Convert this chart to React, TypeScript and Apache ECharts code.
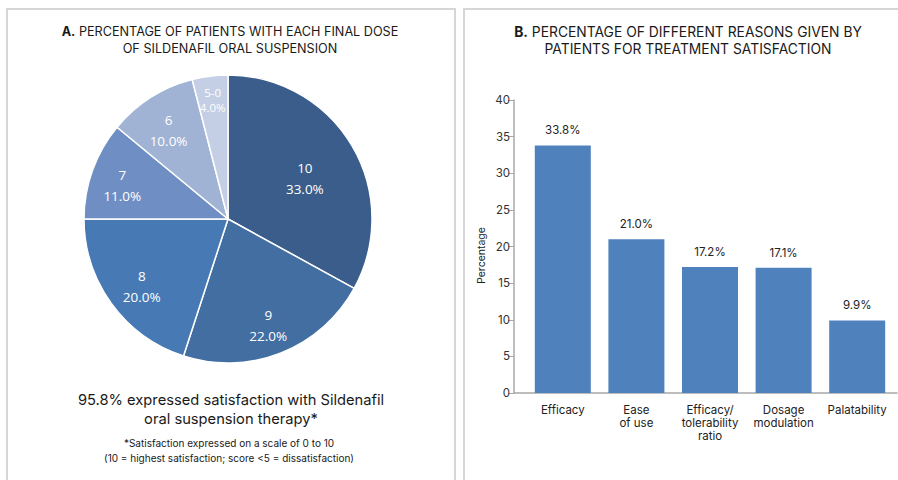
import React, { useEffect, useRef } from "react";
import * as echarts from "echarts";

// Panel A: final dose distribution
const doseLabels = ["10", "9", "8", "7", "6", "5-0"];
const doseShares = [33, 22, 20, 11, 10, 4];
const doseColors = ["#3a5d8b", "#426ea2", "#4779b5", "#6f8fc4", "#a1b3d5", "#c4cee4"];

// Panel B: reasons for satisfaction
const reasonLabels = ["Efficacy", "Ease\nof use", "Efficacy/\ntolerability\nratio", "Dosage\nmodulation", "Palatability"];
const reasonShares = [33.8, 21.0, 17.2, 17.1, 9.9];
const yTicks = { min: 0, max: 40, step: 5 };

const FONT = "Inter, 'Liberation Sans', sans-serif";
const PIE_FONT = "'Open Sans', 'Noto Sans', sans-serif";
const PIE_CENTER = [228, 219];
const PIE_RADIUS = 144;
// radial position of each slice label, as a fraction of the radius
const labelRadiusFrac = [0.62, 0.76, 0.74, 0.78, 0.77, 0.85];

const titleStyle = (size: number) => ({
  fontFamily: FONT,
  fontSize: size,
  fontWeight: "normal" as const,
  color: "#1a1a1a",
  lineHeight: 17,
  rich: { b: { fontWeight: "bold" as const, fontSize: size, fontFamily: FONT, color: "#1a1a1a" } },
});

export default function App() {
  const ref = useRef<HTMLDivElement>(null);

  useEffect(() => {
    if (!ref.current) return;
    const chart = echarts.init(ref.current, null, { renderer: "svg" });
    const total = doseShares.reduce((a, b) => a + b, 0);
    const midAngles: number[] = [];
    let acc = 0;
    doseShares.forEach((v) => {
      midAngles.push(((acc + v / 2) / total) * Math.PI * 2);
      acc += v;
    });
    const smallSlice = doseShares.length - 1;

    chart.setOption({
      animation: false,
      textStyle: { fontFamily: FONT },
      title: [
        {
          left: 225,
          top: 18,
          textAlign: "center",
          text: "{b|A.} PERCENTAGE OF PATIENTS WITH EACH FINAL DOSE\nOF SILDENAFIL ORAL SUSPENSION",
          textStyle: titleStyle(12.65),
        },
        {
          left: 683,
          top: 18,
          textAlign: "center",
          text: "{b|B.} PERCENTAGE OF DIFFERENT REASONS GIVEN BY\nPATIENTS FOR TREATMENT SATISFACTION",
          textStyle: titleStyle(13.85),
        },
        {
          left: 226,
          top: 385,
          textAlign: "center",
          text: "95.8% expressed satisfaction with Sildenafil\noral suspension therapy*",
          textStyle: { fontFamily: FONT, fontSize: 14.7, fontWeight: "normal", color: "#1a1a1a", lineHeight: 19 },
        },
        {
          left: 224,
          top: 431,
          textAlign: "center",
          text: "*Satisfaction expressed on a scale of 0 to 10\n(10 = highest satisfaction; score <5 = dissatisfaction)",
          textStyle: { fontFamily: FONT, fontSize: 10, fontWeight: "normal", color: "#1a1a1a", lineHeight: 14.5 },
        },
      ],
      graphic: [
        {
          type: "polyline",
          shape: { points: [[7, 482], [7, 9], [455, 9], [455, 482]] },
          style: { stroke: "#d6d6d6", lineWidth: 2, fill: "none" },
          silent: true,
        },
        {
          type: "polyline",
          shape: { points: [[464, 482], [464, 9], [900, 9]] },
          style: { stroke: "#d6d6d6", lineWidth: 2, fill: "none" },
          silent: true,
        },
      ],
      grid: [
        { left: 526, right: 4, top: 100, bottom: 87 },
        { left: 514, right: 1, top: 100, bottom: 87 },
      ],
      xAxis: [
        {
          type: "category",
          gridIndex: 0,
          data: reasonLabels,
          axisLine: { show: false },
          axisTick: { show: false },
          axisLabel: { fontFamily: FONT, fontSize: 11.5, color: "#222", lineHeight: 13, margin: 10, interval: 0 },
        },
        {
          type: "value",
          gridIndex: 1,
          min: 0,
          max: 1,
          axisLine: { show: true, lineStyle: { color: "#a8a8a8", width: 1.5 } },
          axisTick: { show: false },
          axisLabel: { show: false },
          splitLine: { show: false },
        },
      ],
      yAxis: [
        {
          type: "value",
          gridIndex: 0,
          min: yTicks.min,
          max: yTicks.max,
          interval: yTicks.step,
          offset: 12,
          name: "Percentage",
          nameLocation: "middle",
          nameGap: 27,
          nameTextStyle: { fontFamily: FONT, fontSize: 10.5, color: "#222", padding: [0, 18, 0, 0] },
          axisLine: { show: true, lineStyle: { color: "#a8a8a8", width: 1.5 } },
          axisTick: { show: true, length: 6, lineStyle: { color: "#a8a8a8" } },
          axisLabel: { fontFamily: FONT, fontSize: 11.5, color: "#333", margin: 4 },
          splitLine: { show: false },
        },
        {
          type: "value",
          gridIndex: 1,
          show: false,
        },
      ],
      series: [
        {
          type: "pie",
          center: PIE_CENTER,
          radius: PIE_RADIUS,
          startAngle: 90,
          clockwise: true,
          itemStyle: { borderColor: "#ffffff", borderWidth: 1.5 },
          labelLine: { show: false },
          label: {
            show: true,
            position: "inside",
            color: "#ffffff",
            fontFamily: PIE_FONT,
            fontSize: 13.5,
            lineHeight: 21,
            align: "center",
            formatter: (p: any) => `${p.name}\n${p.percent.toFixed(1)}%`,
          },
          labelLayout: (p: any) => {
            const i = p.dataIndex;
            const a = midAngles[i];
            const r = PIE_RADIUS * labelRadiusFrac[i];
            return {
              x: PIE_CENTER[0] + r * Math.sin(a),
              y: PIE_CENTER[1] - r * Math.cos(a) + (i === smallSlice ? 2 : 5),
              align: "center",
              verticalAlign: "middle",
            };
          },
          data: doseLabels.map((name, i) => ({
            name,
            value: doseShares[i],
            itemStyle: { color: doseColors[i] },
            label: i === smallSlice ? { fontSize: 11.5, lineHeight: 15 } : undefined,
          })),
        },
        {
          type: "bar",
          xAxisIndex: 0,
          yAxisIndex: 0,
          barWidth: 56,
          itemStyle: { color: "#4f81bd" },
          label: {
            show: true,
            position: "top",
            distance: 9,
            fontFamily: FONT,
            fontSize: 11.5,
            color: "#222",
            formatter: (p: any) => `${Number(p.value).toFixed(1)}%`,
          },
          data: reasonShares,
        },
      ],
    });
    return () => chart.dispose();
  }, []);

  return (
    <div
      ref={ref}
      style={{ position: "fixed", left: 0, top: 0, width: 898, height: 480, background: "#ffffff" }}
    />
  );
}
